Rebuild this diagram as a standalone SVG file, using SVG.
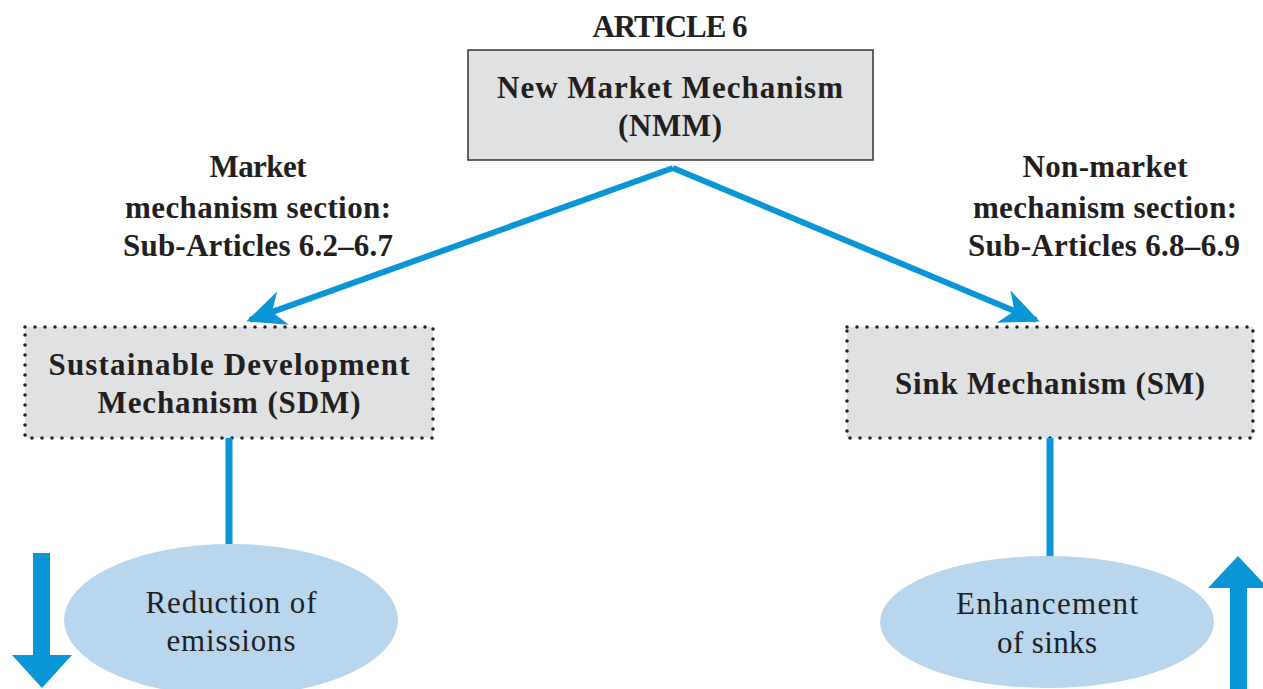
<svg xmlns="http://www.w3.org/2000/svg" width="1263" height="689" viewBox="0 0 1263 689">
<style>
.t{font-family:"Liberation Serif","DejaVu Serif",serif;fill:#231f20;text-anchor:middle}
.b{font-weight:bold;font-size:31px}
.r{font-size:31px}
.box{fill:#e0e1e3}
.dot{fill:none;stroke:#231f20;stroke-width:3.5;stroke-linecap:round;stroke-dasharray:0 10}
.con{fill:none;stroke:#0a96d6;stroke-width:6}
.ell{fill:#b8d6ee}
.blue{fill:#0a96d6}
</style>
<defs>
<marker id="ah" viewBox="0 0 10 10" refX="9" refY="5" markerWidth="6.5" markerHeight="6.5" markerUnits="strokeWidth" orient="auto">
<path d="M0,0.5 L10,5 L0,9.5 L3,5 Z" fill="#0a96d6"/>
</marker>
</defs>
<g id="title"><text class="t b" x="670" y="37" textLength="155">ARTICLE 6</text></g>
<g id="nmm">
<rect x="468" y="50" width="405" height="110" fill="#e0e1e3" stroke="#333" stroke-width="1.5"/>
<text class="t b" x="670" y="98" textLength="346">New Market Mechanism</text>
<text class="t b" x="670" y="136" textLength="104">(NMM)</text>
</g>
<g id="label-left">
<text class="t b" x="258" y="177" textLength="97">Market</text>
<text class="t b" x="258" y="218" textLength="266">mechanism section:</text>
<text class="t b" x="258" y="256" textLength="270">Sub-Articles 6.2–6.7</text>
</g>
<g id="label-right">
<text class="t b" x="1105" y="177" textLength="165">Non-market</text>
<text class="t b" x="1105" y="218" textLength="264">mechanism section:</text>
<text class="t b" x="1104" y="256" textLength="272">Sub-Articles 6.8–6.9</text>
</g>
<g id="sdm">
<rect class="box" x="25" y="327" width="408" height="111"/>
<rect class="dot" x="25" y="327" width="408" height="111"/>
<text class="t b" x="229" y="375" textLength="361">Sustainable Development</text>
<text class="t b" x="229" y="413" textLength="263">Mechanism (SDM)</text>
</g>
<g id="sm">
<rect class="box" x="847" y="327" width="406" height="111"/>
<rect class="dot" x="847" y="327" width="406" height="111"/>
<text class="t b" x="1050" y="394" textLength="310">Sink Mechanism (SM)</text>
</g>
<g id="connectors">
<path class="con" d="M673,168 L250,320" marker-end="url(#ah)"/>
<path class="con" d="M673,168 L1036,320" marker-end="url(#ah)"/>
<line class="con" x1="229" y1="438" x2="229" y2="546" style="stroke-width:7"/>
<line class="con" x1="1050" y1="438" x2="1050" y2="558" style="stroke-width:7"/>
</g>
<g id="reduction">
<ellipse class="ell" cx="231" cy="620" rx="167" ry="76"/>
<text class="t r" x="231" y="613" textLength="171">Reduction of</text>
<text class="t r" x="231" y="651" textLength="129">emissions</text>
</g>
<g id="enhancement">
<ellipse class="ell" cx="1047" cy="622" rx="167" ry="66"/>
<text class="t r" x="1047" y="614" textLength="182">Enhancement</text>
<text class="t r" x="1047" y="653" textLength="100">of sinks</text>
</g>
<g id="down-arrow"><path class="blue" d="M33,553 H50 V655 H72 L42,688 L12,655 H33 Z"/></g>
<g id="up-arrow"><path class="blue" d="M1230,689 V588 H1208 L1238,556 L1268,588 H1247 V689 Z"/></g>
</svg>
